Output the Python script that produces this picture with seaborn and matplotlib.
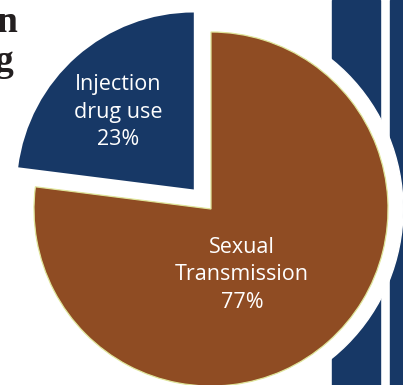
import matplotlib
matplotlib.use("Agg")
import matplotlib.pyplot as plt
import seaborn as sns
from matplotlib.patches import Circle

# data
categories = ["Injection\ndrug use", "Sexual\nTransmission"]
shares = [23, 77]
colors = ["#173866", "#8f4c23"]

sns.set_theme(style="white")
plt.rcParams['font.family'] = ['Open Sans', 'DejaVu Sans']

W, H = 403, 385
cx, cy, R = 211, 209, 177   # pie centre / radius in pixels


def px(x, y):
    # pixel position (from top-left) -> data coords with pie radius = 1
    return (x - cx) / R, (cy - y) / R


fig = plt.figure(figsize=(W / 100, H / 100), dpi=100)
ax = fig.add_axes([0, 0, 1, 1])

wedges, _ = ax.pie(shares, colors=colors, startangle=90, counterclock=True,
                   explode=[26 / R, 0], radius=1, center=(0, 0),
                   wedgeprops=dict(zorder=3, linewidth=0))
wedges[1].set_edgecolor("#dfe59a")
wedges[1].set_linewidth(0.9)

x0, x1 = px(0, 0)[0], px(W, 0)[0]
y0, y1 = px(0, H)[1], px(0, 0)[1]
ax.set_xlim(x0, x1)
ax.set_ylim(y0, y1)
ax.set_aspect('equal')
ax.axis('off')

# decorative blue columns behind a white halo
ax.axvspan(px(332, 0)[0], px(380, 0)[0], color="#173866", zorder=0)
ax.axvspan(px(390, 0)[0], px(410, 0)[0], color="#173866", zorder=0)
ax.add_patch(Circle((0, 0), 192 / R, color="white", zorder=1))

# slice labels
ax.text(*px(118, 112), f"{categories[0]}\n{shares[0]}%", color="white",
        ha="center", va="center", fontsize=15.5, linespacing=1.4, zorder=5)
ax.text(*px(242, 275), f"{categories[1]}\n{shares[1]}%", color="white",
        ha="center", va="center", fontsize=15.5, linespacing=1.4, zorder=5)

# clipped heading letters
ax.text(*px(18, 32), "n", family="Liberation Serif", fontweight="bold",
        fontsize=27, color="#231f20", ha="right", va="baseline")
ax.text(*px(14, 71), "g", family="Liberation Serif", fontweight="bold",
        fontsize=27, color="#231f20", ha="right", va="baseline")

fig.savefig("out.png", dpi=100)
